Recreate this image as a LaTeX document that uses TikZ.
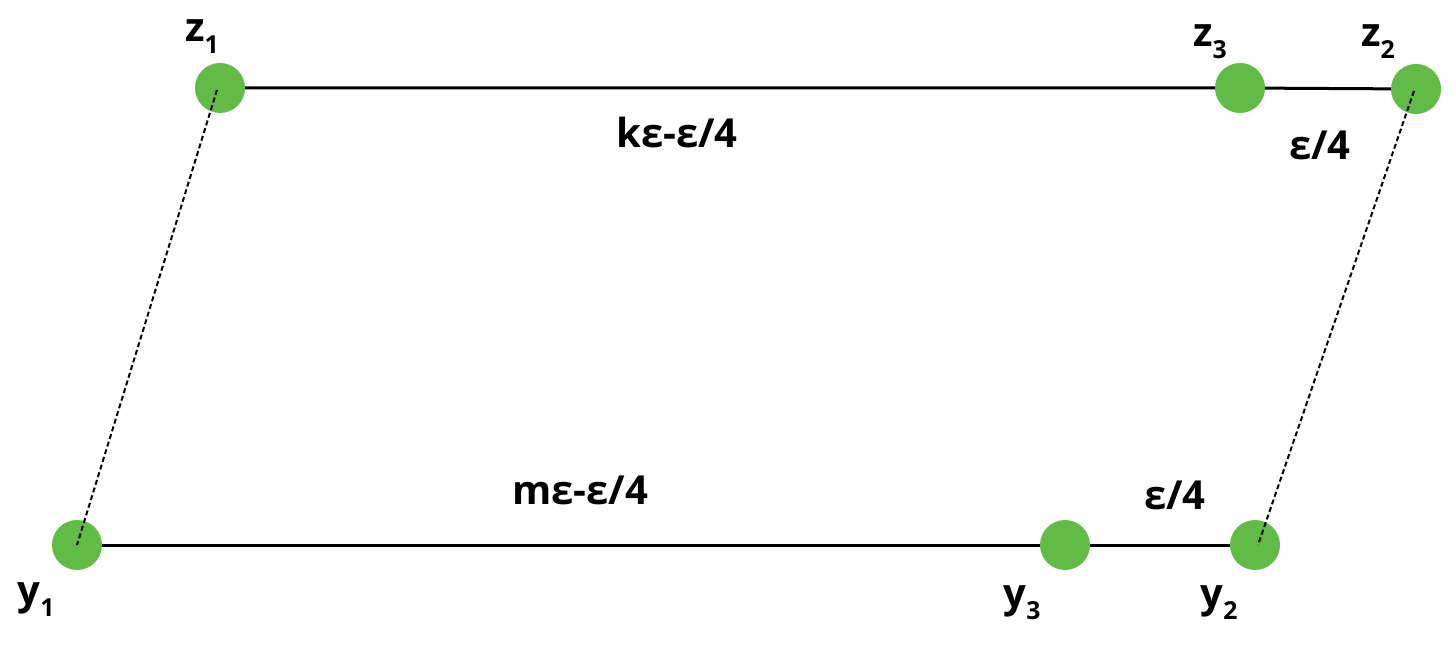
\documentclass[tikz,border=0pt]{standalone}
\usepackage{fontspec}
\setmainfont{Open Sans}
\usepackage{graphicx}
\definecolor{dotgreen}{HTML}{62BB46}
\newcommand{\sub}[2]{#1\raisebox{-0.3em}{\scalebox{0.62}{#2}}}
\begin{document}
\begin{tikzpicture}[x=0.5pt,y=-0.5pt,
  dot/.style={circle,fill=dotgreen,minimum size=25pt,inner sep=0pt},
  lbl/.style={font=\fontsize{20}{24}\selectfont\bfseries,inner sep=0pt},
  seg/.style={line width=1.5pt},
  guide/.style={line width=1pt,dash pattern=on 2.5pt off 1.5pt}]
\useasboundingbox (0,0) rectangle (1456,646);
\coordinate (z1) at (220,88);
\coordinate (z3) at (1240,88);
\coordinate (z2) at (1416,89);
\coordinate (y1) at (77,545);
\coordinate (y3) at (1065,545);
\coordinate (y2) at (1255,545);
\draw[seg] (z1) -- (z3) -- (z2);
\draw[seg] (y1) -- (y3) -- (y2);
\node[dot] (Z1) at (z1) {};
\node[dot] (Z3) at (z3) {};
\node[dot] (Z2) at (z2) {};
\node[dot] (Y1) at (y1) {};
\node[dot] (Y3) at (y3) {};
\node[dot] (Y2) at (y2) {};
\draw[guide] ([shift={(-3,2)}]z1) -- (y1);
\draw[guide] ([shift={(-2,2)}]z2) -- ([shift={(3,0)}]y2);
\node[lbl] (lz1) at (202,37) {\sub{z}{1}};
\node[lbl] (lz3) at (1210,42) {\sub{z}{3}};
\node[lbl] (lz2) at (1378,42) {\sub{z}{2}};
\node[lbl] (ly1) at (36,600) {\sub{y}{1}};
\node[lbl] (ly3) at (1022,603) {\sub{y}{3}};
\node[lbl] (ly2) at (1219,603) {\sub{y}{2}};
\node[lbl] (k) at (677,133) {kε-ε/4};
\node[lbl] (e1) at (1320,145) {ε/4};
\node[lbl] (m) at (580,490) {mε-ε/4};
\node[lbl] (e2) at (1175,495) {ε/4};
\end{tikzpicture}
\end{document}
